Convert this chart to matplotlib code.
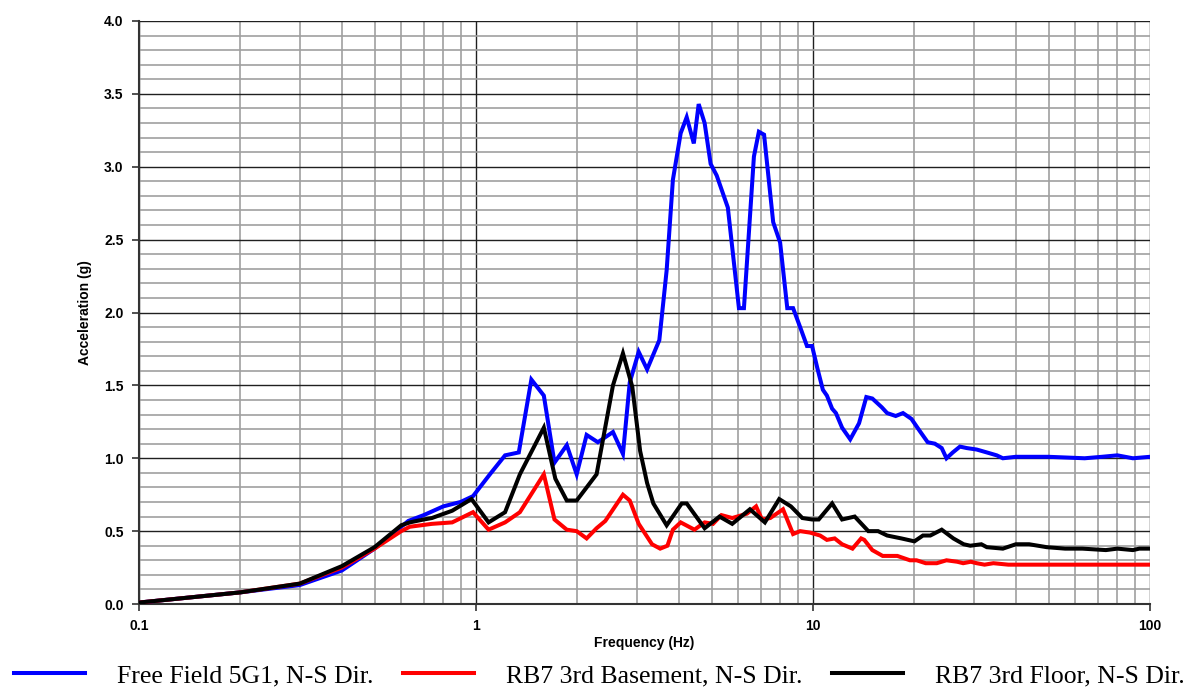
import matplotlib
matplotlib.use("Agg")
import matplotlib.pyplot as plt
import matplotlib.ticker as mticker

# ── data ────────────────────────────────────────────────────────────
ff_freq = [0.1, 0.2, 0.3, 0.4, 0.5, 0.6, 0.63, 0.7, 0.8, 0.9, 0.98, 1.1, 1.22, 1.34,
           1.46, 1.59, 1.71, 1.86, 1.99, 2.13, 2.30, 2.55, 2.73, 2.86, 3.04, 3.22,
           3.5, 3.68, 3.84, 4.05, 4.22, 4.43, 4.58, 4.77, 4.97, 5.18, 5.59, 6.03,
           6.24, 6.68, 6.91, 7.16, 7.62, 7.99, 8.39, 8.73, 9.16, 9.6, 9.94, 10.3,
           10.7, 11.0, 11.4, 11.7, 12.2, 12.9, 13.7, 14.4, 15.0, 16.0, 16.6, 17.6,
           18.5, 19.6, 20.7, 21.9, 23.0, 24.1, 24.9, 26.0, 27.3, 28.6, 30.6, 32.8,
           35.1, 36.6, 40, 50, 64, 72, 80, 89, 100]
ff_acc = [0.01, 0.08, 0.13, 0.23, 0.38, 0.53, 0.57, 0.61, 0.67, 0.70, 0.74, 0.89, 1.02, 1.04,
          1.54, 1.43, 0.97, 1.09, 0.89, 1.16, 1.11, 1.18, 1.03, 1.52, 1.73, 1.61,
          1.81, 2.29, 2.91, 3.23, 3.34, 3.16, 3.43, 3.30, 3.02, 2.94, 2.72, 2.03,
          2.03, 3.07, 3.24, 3.22, 2.62, 2.48, 2.03, 2.03, 1.90, 1.77, 1.77, 1.62,
          1.47, 1.43, 1.34, 1.31, 1.21, 1.13, 1.24, 1.42, 1.41, 1.35, 1.31, 1.29,
          1.31, 1.27, 1.19, 1.11, 1.10, 1.07, 1.00, 1.04, 1.08, 1.07, 1.06, 1.04,
          1.02, 1.00, 1.01, 1.01, 1.00, 1.01, 1.02, 1.00, 1.01]

bs_freq = [0.1, 0.2, 0.3, 0.4, 0.5, 0.6, 0.636, 0.74, 0.85, 0.98, 1.09, 1.22, 1.35, 1.59,
           1.71, 1.86, 1.99, 2.13, 2.28, 2.42, 2.73, 2.86, 3.04, 3.33, 3.52, 3.70,
           3.84, 4.05, 4.45, 4.77, 5.05, 5.35, 5.76, 6.37, 6.78, 7.06, 7.47, 8.15,
           8.73, 9.16, 9.8, 10.5, 11.0, 11.6, 12.2, 13.1, 13.9, 14.2, 15.0, 16.1,
           17.8, 19.4, 20.3, 21.6, 23.3, 24.9, 26.8, 27.9, 29.4, 30.6, 32.3, 34.3,
           38, 40, 100]
bs_acc = [0.01, 0.08, 0.14, 0.25, 0.38, 0.50, 0.53, 0.55, 0.56, 0.63, 0.51, 0.56, 0.63, 0.89,
          0.58, 0.51, 0.50, 0.45, 0.52, 0.57, 0.75, 0.71, 0.55, 0.41, 0.38, 0.40,
          0.51, 0.56, 0.51, 0.56, 0.55, 0.61, 0.59, 0.62, 0.67, 0.58, 0.59, 0.65,
          0.48, 0.50, 0.49, 0.47, 0.44, 0.45, 0.41, 0.38, 0.45, 0.44, 0.37, 0.33,
          0.33, 0.30, 0.30, 0.28, 0.28, 0.30, 0.29, 0.28, 0.29, 0.28, 0.27, 0.28,
          0.27, 0.27, 0.27]

fl_freq = [0.1, 0.2, 0.3, 0.4, 0.5, 0.6, 0.636, 0.70, 0.74, 0.85, 0.97, 1.09, 1.22, 1.35,
           1.59, 1.72, 1.86, 1.99, 2.28, 2.55, 2.73, 2.91, 3.07, 3.22, 3.36, 3.68,
           4.08, 4.22, 4.77, 5.28, 5.76, 6.50, 7.2, 7.94, 8.6, 9.3, 9.94, 10.4,
           11.4, 12.2, 13.3, 14.6, 15.6, 16.6, 18.3, 20.0, 21.2, 22.3, 24.1, 26.1,
           28.0, 29.3, 31.6, 32.8, 36.6, 40, 43.8, 49.4, 56, 63, 74, 80, 89, 93, 100]
fl_acc = [0.01, 0.08, 0.14, 0.26, 0.39, 0.54, 0.56, 0.58, 0.59, 0.64, 0.72, 0.56, 0.63, 0.89,
          1.21, 0.86, 0.71, 0.71, 0.89, 1.50, 1.72, 1.49, 1.05, 0.83, 0.69, 0.54,
          0.69, 0.69, 0.52, 0.60, 0.55, 0.65, 0.56, 0.72, 0.67, 0.59, 0.58, 0.58,
          0.69, 0.58, 0.60, 0.50, 0.50, 0.47, 0.45, 0.43, 0.47, 0.47, 0.51, 0.45,
          0.41, 0.40, 0.41, 0.39, 0.38, 0.41, 0.41, 0.39, 0.38, 0.38, 0.37, 0.38, 0.37, 0.38, 0.38]

labels = ["Free Field 5G1, N-S Dir.", "RB7 3rd Basement, N-S Dir.", "RB7 3rd Floor, N-S Dir."]
colors = ["#0000ff", "#ff0000", "#000000"]

plt.rcParams["font.family"] = ["Liberation Sans", "DejaVu Sans"]

fig = plt.figure(figsize=(11.99, 6.93), dpi=100)
ax = fig.add_axes([0.1159, 0.1284, 0.8432, 0.8413])

for fx, fy, lab, c in zip([ff_freq, bs_freq, fl_freq], [ff_acc, bs_acc, fl_acc], labels, colors):
    ax.plot(fx, fy, color=c, linewidth=2.9, label=lab, solid_joinstyle="miter", zorder=3)

ax.set_xscale("log")
ax.set_xlim(0.1, 100)
ax.set_ylim(0, 4.0)

ax.xaxis.set_major_locator(mticker.LogLocator(base=10))
ax.xaxis.set_minor_locator(mticker.LogLocator(base=10, subs=range(2, 10)))
ax.xaxis.set_major_formatter(mticker.FuncFormatter(lambda v, p: f"{v:g}"))
ax.xaxis.set_minor_formatter(mticker.NullFormatter())
ax.yaxis.set_major_locator(mticker.MultipleLocator(0.5))
ax.yaxis.set_minor_locator(mticker.MultipleLocator(0.1))
ax.yaxis.set_major_formatter(mticker.FormatStrFormatter("%.1f"))

ax.grid(which="major", axis="both", color="#202020", linewidth=1.0, zorder=0)
ax.grid(which="minor", axis="both", color="#a0a0a0", linewidth=1.2, zorder=0)
ax.set_axisbelow(True)

for s in ["top", "right"]:
    ax.spines[s].set_visible(False)
for s in ["left", "bottom"]:
    ax.spines[s].set_color("#333333")
    ax.spines[s].set_linewidth(1.5)

ax.tick_params(which="major", direction="out", length=5, width=1.2, labelsize=10,
               color="#333333", pad=6)
ax.tick_params(which="minor", length=0)
for t in ax.get_xticklabels() + ax.get_yticklabels():
    t.set_fontweight("bold")

ax.set_xlabel("Frequency (Hz)", fontsize=10, fontweight="bold", labelpad=2)
ax.set_ylabel("Acceleration (g)", fontsize=10, fontweight="bold", labelpad=9)

fig.legend(loc="lower center", bbox_to_anchor=(0.5, -0.025), ncol=3, frameon=False,
           prop={"family": "Liberation Serif", "size": 18.5},
           handlelength=2.75, handletextpad=1.25, columnspacing=1.15)

fig.savefig("out.png", dpi=100)
